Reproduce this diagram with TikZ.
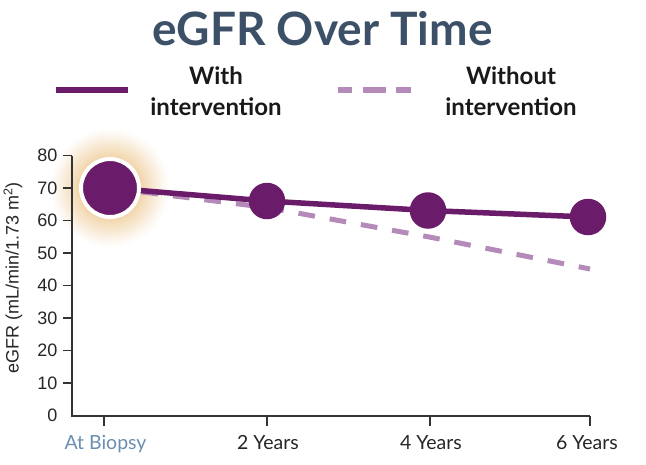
\documentclass[tikz,border=0pt]{standalone}
\usepackage{fontspec}
\setmainfont{Lato}
\newfontfamily\arialf{Liberation Sans}
\definecolor{purp}{HTML}{6A1B69}
\definecolor{lilac}{HTML}{B48BB8}
\definecolor{titlec}{HTML}{3C5068}
\definecolor{axisc}{HTML}{333333}
\definecolor{biopc}{HTML}{6B8FB2}
\definecolor{glowc}{HTML}{EFCE9C}
\begin{document}
\begin{tikzpicture}[x=1pt,y=-1pt,
  titletext/.style={font=\fontsize{46}{50}\selectfont\bfseries, text=titlec, inner sep=0pt, anchor=base},
  legtext/.style={font=\fontsize{24}{27}\selectfont\bfseries, text=black!90, inner sep=0pt, anchor=base},
  legsolid/.style={draw=purp, line width=6pt},
  legdash/.style={draw=lilac, line width=6pt, dash pattern=on 14.5pt off 10.5pt on 23pt off 10.5pt on 14.5pt},
  axisline/.style={draw=axisc, line width=1.6pt},
  tickline/.style={draw=axisc, line width=1.5pt},
  ylab/.style={font=\arialf\fontsize{18}{20}\selectfont, text=black!85, inner sep=0pt, anchor=east},
  xlab/.style={font=\fontsize{19.5}{22}\selectfont, text=black!85, inner sep=0pt, anchor=base},
  solidline/.style={draw=purp, line width=5.5pt},
  dashline/.style={draw=lilac, line width=5pt, dash pattern=on 16.7pt off 15pt},
  bigdot/.style={circle, fill=purp, draw=white, line width=4pt, minimum size=58pt, inner sep=0pt},
  dot/.style={circle, fill=purp, minimum size=36.5pt, inner sep=0pt},
]
\useasboundingbox (0,0) rectangle (646,464);
\fill[white] (0,0) rectangle (646,464);

% title
\node[titletext] (title) at (322.5,45) {eGFR Over Time};

% legend
\coordinate (ls1) at (56,90);
\coordinate (ls2) at (128,90);
\draw[legsolid] (ls1) -- (ls2);
\node[legtext] (lw1) at (216,84) {With};
\node[legtext] (lw2) at (216,115) {intervention};
\coordinate (ld1) at (337.5,90);
\coordinate (ld2) at (410.5,90);
\draw[legdash] (ld1) -- (ld2);
\node[legtext] (lwo1) at (511,84) {Without};
\node[legtext] (lwo2) at (511,115) {intervention};

% data positions
\coordinate (p0) at (110,188);
\coordinate (p1) at (267,201);
\coordinate (p2) at (428,210.5);
\coordinate (p3) at (588,217);
\coordinate (d1) at (267,207.5);
\coordinate (d2) at (428,236.75);
\coordinate (d3) at (590,269);

% soft glow behind the first point
\foreach \r in {60,59,...,31}{
  \pgfmathsetmacro{\pp}{85*((60-\r)/29)^1.1}
  \fill[glowc!\pp!white] (p0) circle[radius=\r];
}

% axes
\coordinate (ytop) at (72,155.5);
\coordinate (orig) at (72,416);
\coordinate (xend) at (590,416);
\draw[axisline] (ytop) -- (orig) -- (xend);
\foreach \v in {10,20,...,80}{
  \pgfmathsetmacro{\yy}{415.5-3.25*\v}
  \coordinate (yt\v a) at (63,\yy);
  \coordinate (yt\v b) at (72,\yy);
  \draw[tickline] (yt\v a) -- (yt\v b);
}
\foreach \v in {0,10,...,80}{
  \pgfmathsetmacro{\yy}{415.5-3.25*\v}
  \node[ylab] (yl\v) at (57.5,\yy) {\v};
}
\node[font=\arialf\fontsize{18}{20}\selectfont, text=black!85, rotate=90, inner sep=0pt] (ytitle) at (13,278) {eGFR (mL/min/1.73 m\textsuperscript{2})};

% x ticks and labels
\foreach \n/\x in {0/104,1/267,2/430,3/590}{
  \coordinate (xt\n a) at (\x,416);
  \coordinate (xt\n b) at (\x,426);
  \draw[tickline] (xt\n a) -- (xt\n b);
}
\node[xlab, text=biopc] (xl0) at (105.5,449) {At Biopsy};
\node[xlab] (xl1) at (268,449) {2 Years};
\node[xlab] (xl2) at (431,449) {4 Years};
\node[xlab] (xl3) at (587,449) {6 Years};

% lines
\draw[dashline] (p0) -- (d1) -- (d2) -- (d3);
\draw[solidline] (p0) -- (p1) -- (p2) -- (p3);

% points
\node[bigdot] (c0) at (p0) {};
\node[dot] (c1) at (p1) {};
\node[dot] (c2) at (p2) {};
\node[dot] (c3) at (p3) {};
\end{tikzpicture}
\end{document}
